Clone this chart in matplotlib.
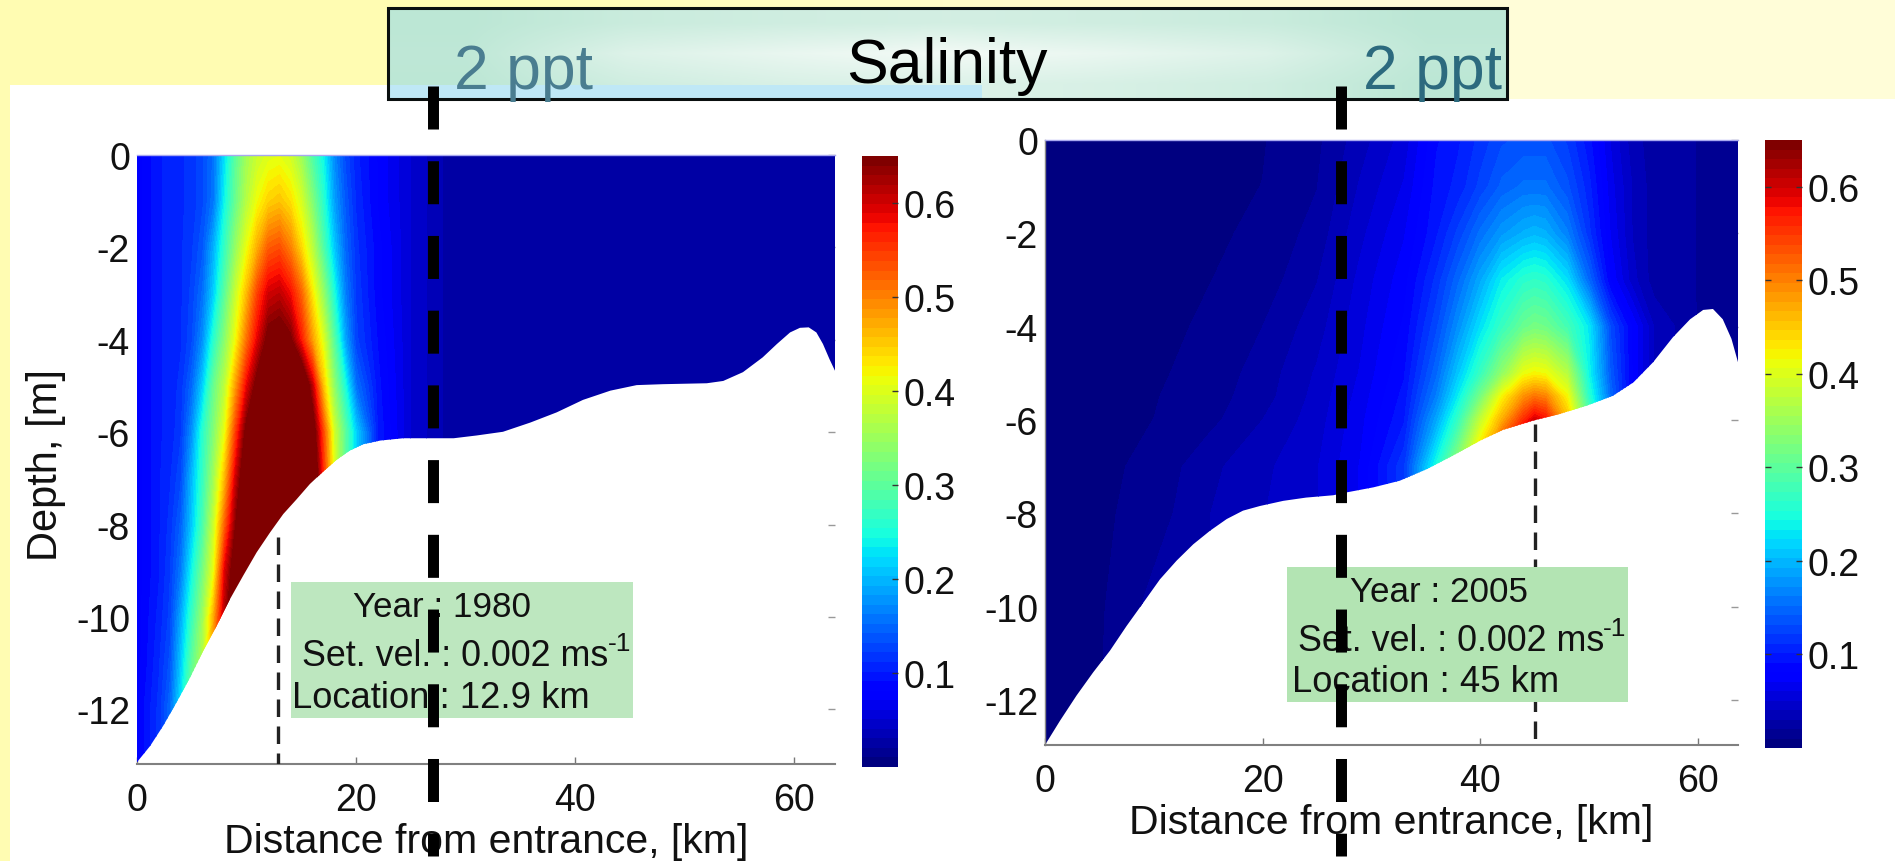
import numpy as np
import matplotlib
matplotlib.use("Agg")
import matplotlib.pyplot as plt
from matplotlib.colors import LinearSegmentedColormap, Normalize
from matplotlib.cm import ScalarMappable
from matplotlib.patches import Rectangle, Polygon

plt.rcParams['font.family'] = ['Liberation Sans', 'DejaVu Sans']

W, H = 1895, 862

# ---------- data ----------
x_ticks = [0, 20, 40, 60]
x_tick_labels = ['0', '20', '40', '60']
y_ticks = [0, -2, -4, -6, -8, -10, -12]
y_tick_labels = ['0', '-2', '-4', '-6', '-8', '-10', '-12']
cb_ticks = [0.1, 0.2, 0.3, 0.4, 0.5, 0.6]
cb_tick_labels = ['0.1', '0.2', '0.3', '0.4', '0.5', '0.6']

bed_x_1980 = [0, 1.2, 2.4, 3.6, 4.84, 6.05, 7.27, 8.49, 9.7, 10.92, 12.14, 13.35, 14.57, 15.78, 17, 18.2, 19.4,
              20.65, 22.2, 24.3, 26.7, 28.9, 31, 33.4, 35.9, 38.3, 40.7, 43.2, 45.6, 48, 52, 53.5, 55.3, 57.1,
              58.4, 59.6, 60.5, 61.3, 62, 62.6, 63.2, 63.7]
bed_z_1980 = [-13.14, -12.79, -12.35, -11.85, -11.31, -10.73, -10.19, -9.61, -9.1, -8.6, -8.17, -7.77, -7.45,
              -7.12, -6.85, -6.6, -6.4, -6.26, -6.18, -6.13, -6.13, -6.13, -6.07, -5.99, -5.79, -5.57, -5.3,
              -5.1, -4.98, -4.96, -4.94, -4.89, -4.7, -4.38, -4.09, -3.84, -3.74, -3.73, -3.84, -4.09, -4.42,
              -4.67]

bed_x_2005 = [0, 1.38, 2.9, 4.44, 5.97, 7.5, 9.04, 10.57, 12.1, 13.63, 15.17, 16.7, 18.2, 19.76, 21.9, 24, 26.5,
              27.7, 30.2, 32.6, 35.1, 37.5, 40, 42.1, 44.9, 47.3, 49.8, 52.2, 54.1, 55.9, 57.7, 59.3, 60.5,
              61.4, 62.3, 63.1, 63.7]
bed_z_2005 = [-12.96, -12.44, -11.9, -11.4, -10.94, -10.41, -9.91, -9.41, -9.01, -8.66, -8.37, -8.12, -7.94,
              -7.84, -7.73, -7.66, -7.61, -7.55, -7.44, -7.3, -7.05, -6.76, -6.44, -6.21, -6.01, -5.87, -5.69,
              -5.48, -5.19, -4.76, -4.23, -3.84, -3.64, -3.62, -3.84, -4.26, -4.76]

field_x_1980 = [0, 2, 3, 4, 5, 6, 7, 8, 9, 10, 11, 12, 13, 14, 15, 16, 17, 18, 19, 20, 22, 25, 28, 64]
field_z_1980 = [0, -1, -2, -3, -4, -5, -6, -7, -8, -9, -10, -11, -12, -13.2]
field_1980 = [
    [.075, .10, .105, .11, .115, .13, .155, .225, .30, .355, .385, .40, .405, .39, .35, .29, .24, .17, .13, .105, .08, .05, .03, .025],
    [.075, .10, .105, .11, .115, .13, .16, .24, .31, .37, .415, .445, .455, .435, .395, .33, .26, .185, .14, .11, .08, .05, .03, .025],
    [.075, .10, .105, .11, .12, .14, .195, .27, .345, .41, .47, .525, .535, .50, .44, .375, .29, .21, .15, .115, .085, .05, .03, .025],
    [.075, .10, .105, .11, .125, .155, .215, .30, .385, .46, .545, .60, .61, .58, .52, .43, .345, .25, .165, .12, .085, .05, .03, .025],
    [.075, .10, .105, .11, .13, .175, .26, .335, .415, .51, .59, .66, .67, .65, .57, .48, .40, .295, .19, .125, .09, .05, .03, .025],
    [.075, .10, .105, .115, .15, .215, .31, .375, .48, .585, .665, .72, .78, .78, .72, .61, .455, .34, .25, .155, .095, .05, .03, .025],
    [.075, .10, .105, .12, .175, .26, .33, .41, .545, .66, .75, .80, .80, .80, .75, .68, .54, .39, .30, .215, .10, .05, .03, .025],
    [.075, .10, .11, .13, .20, .27, .355, .46, .60, .70, .80, .80, .80, .80, .80, .72, .56, .40, .30, .215, .10, .05, .03, .025],
    [.075, .10, .115, .145, .21, .285, .385, .52, .64, .75, .80, .80, .80, .80, .80, .72, .56, .40, .30, .215, .10, .05, .03, .025],
    [.075, .10, .12, .16, .24, .32, .41, .59, .68, .80, .80, .80, .80, .80, .80, .72, .56, .40, .30, .215, .10, .05, .03, .025],
    [.075, .105, .125, .19, .27, .35, .47, .62, .72, .80, .80, .80, .80, .80, .80, .72, .56, .40, .30, .215, .10, .05, .03, .025],
    [.075, .11, .135, .21, .30, .37, .50, .65, .75, .80, .80, .80, .80, .80, .80, .72, .56, .40, .30, .215, .10, .05, .03, .025],
    [.08, .115, .15, .23, .33, .42, .55, .70, .80, .80, .80, .80, .80, .80, .80, .72, .56, .40, .30, .215, .10, .05, .03, .025],
    [.08, .115, .15, .23, .33, .42, .55, .70, .80, .80, .80, .80, .80, .80, .80, .72, .56, .40, .30, .215, .10, .05, .03, .025],
]

field_x_2005 = [0, 5, 10, 15, 20, 25, 29, 33, 36, 38, 40, 42, 44, 45, 46, 48, 50, 52, 54, 56, 60, 64]
field_z_2005 = [0, -1, -2, -3, -4, -5, -5.5, -6, -7, -8, -10, -13]
field_2005 = [
    [.008, .008, .005, .007, .0095, .018, .036, .055, .09, .10, .115, .13, .135, .135, .135, .12, .095, .06, .035, .025, .02, .02],
    [.008, .008, .006, .0075, .0103, .02, .042, .062, .095, .105, .125, .145, .155, .155, .155, .135, .105, .065, .04, .025, .02, .02],
    [.008, .008, .006, .008, .0125, .024, .048, .07, .10, .125, .155, .18, .195, .20, .195, .165, .115, .07, .04, .025, .02, .02],
    [.008, .008, .0065, .0098, .0145, .03, .054, .077, .115, .15, .19, .235, .26, .265, .26, .225, .15, .08, .045, .025, .02, .02],
    [.008, .008, .007, .0118, .0203, .036, .058, .083, .13, .175, .225, .27, .31, .32, .315, .28, .23, .13, .08, .04, .02, .02],
    [.008, .008, .0085, .014, .0245, .042, .062, .09, .15, .21, .27, .34, .41, .42, .415, .37, .24, .14, .08, .04, .02, .02],
    [.008, .008, .0095, .0155, .026, .044, .065, .095, .165, .235, .32, .42, .49, .51, .50, .42, .26, .15, .08, .04, .02, .02],
    [.008, .008, .0102, .017, .0305, .046, .068, .10, .19, .27, .38, .47, .56, .60, .58, .46, .30, .17, .08, .04, .02, .02],
    [.008, .008, .0125, .0275, .038, .05, .072, .12, .25, .35, .47, .60, .70, .70, .70, .55, .36, .20, .08, .04, .02, .02],
    [.008, .008, .015, .03, .04, .05, .072, .12, .25, .35, .47, .60, .70, .70, .70, .55, .36, .20, .08, .04, .02, .02],
    [.008, .0085, .024, .03, .04, .05, .072, .12, .25, .35, .47, .60, .70, .70, .70, .55, .36, .20, .08, .04, .02, .02],
    [.008, .0102, .03, .03, .04, .05, .072, .12, .25, .35, .47, .60, .70, .70, .70, .55, .36, .20, .08, .04, .02, .02],
]

location_1980 = 12.9
location_2005 = 45
dash_top_1980 = -8.27
dash_top_2005 = -6.09


# ---------- helpers ----------
def rect(x0, y0, x1, y1):
    """Axes rectangle from pixel edges, y measured from the top."""
    return [x0 / W, 1 - y1 / H, (x1 - x0) / W, (y1 - y0) / H]


fig = plt.figure(figsize=(W / 100, H / 100), dpi=100, facecolor='white')

# ---------- slide background ----------
bg = fig.add_axes([0, 0, 1, 1], zorder=0)
bg.axis('off')
yellow = LinearSegmentedColormap.from_list('y', ['#FFFCB2', '#FFFDC8', '#FFFDD8'])
bg.imshow([[0, 1]], extent=[0, W, H, 0], cmap=yellow, aspect='auto', interpolation='bilinear', zorder=0)
bg.add_patch(Rectangle((10, 86), 1000, H - 86, fc='white', ec='none', zorder=1))
bg.add_patch(Rectangle((1000, 100), W - 1000, H - 100, fc='white', ec='none', zorder=1))
band = LinearSegmentedColormap.from_list('b', ['#BCE7D5', '#F3FAF6'])
band_shade = [[0, .25, .35, .42, .35, .25, 0],
              [.05, .6, .82, 1, .82, .6, .08],
              [0, .35, .52, .6, .5, .35, 0]]
bg.imshow(band_shade, extent=[388, 1507, 100, 9], cmap=band, vmin=0, vmax=1, aspect='auto',
          interpolation='bilinear', zorder=2)
bg.add_patch(Rectangle((388, 86), 594, 14, fc='#BFE8F6', ec='none', zorder=3))
bg.add_patch(Rectangle((388, 9), 1119, 91, fc='none', ec='#0A0F0F', lw=2.2, zorder=4))
bg.set_xlim(0, W)
bg.set_ylim(H, 0)

# ---------- panels ----------
cmap = plt.get_cmap('jet', 64)
levels = np.linspace(0, 0.65, 65)
norm = Normalize(0, 0.65)


def panel(ax_px, cb_px, fx, fz, field, bx, bz, loc, dash_top, ylim):
    ax = fig.add_axes(rect(*ax_px), zorder=1)
    ax.set_facecolor('none')
    cs = ax.contourf(fx, fz, np.array(field), levels=levels, cmap=cmap, norm=norm, extend='max')
    water = Polygon(list(zip(bx, bz)) + [(bx[-1], 0), (bx[0], 0)], closed=True, transform=ax.transData)
    cs.set_clip_path(water)
    ax.plot([loc, loc], [dash_top, ylim], color='#222222', lw=2.4, dashes=(5.25, 2.85),
            dash_capstyle='butt', zorder=3)
    ax.set_xlim(0, 63.7)
    ax.set_ylim(ylim, 0)
    ax.set_axisbelow(True)
    ax.set_xticks(x_ticks, x_tick_labels)
    ax.set_yticks(y_ticks, y_tick_labels)
    ax.tick_params(axis='x', direction='in', length=5, width=1, color='#777777', pad=13, labelsize=27,
                   labelcolor='#111111')
    ax.tick_params(axis='y', direction='in', length=5, width=1, color='#999999', pad=5, labelsize=27,
                   left=False, right=True, labelcolor='#111111')
    for s in ('left', 'right'):
        ax.spines[s].set_visible(False)
    ax.spines['bottom'].set_color('#808080')
    ax.spines['bottom'].set_linewidth(1.5)
    ax.spines['top'].set_color('#A8A8F0')
    ax.spines['top'].set_linewidth(1)
    ax.set_xlabel('Distance from entrance, [km]', fontsize=29.5, color='#111111', labelpad=3)

    cax = fig.add_axes(rect(*cb_px), zorder=1)
    cb = fig.colorbar(ScalarMappable(norm=norm, cmap=cmap), cax=cax)
    cb.set_ticks(cb_ticks, labels=cb_tick_labels)
    cb.outline.set_visible(False)
    cax.tick_params(axis='y', direction='in', length=4, width=1, color='#333333', left=True, right=True,
                    pad=4, labelsize=27, labelcolor='#111111')
    return ax


ax1 = panel((137, 156, 835, 765), (862, 157, 898, 768), field_x_1980, field_z_1980, field_1980,
            bed_x_1980, bed_z_1980, location_1980, dash_top_1980, -13.18)
ax1.set_ylabel('Depth, [m]', fontsize=30, color='#111111', labelpad=7)
ax1.yaxis.label.set_y(0.4926)
ax2 = panel((1045, 141, 1738, 746), (1765, 141, 1802, 749), field_x_2005, field_z_2005, field_2005,
            bed_x_2005, bed_z_2005, location_2005, dash_top_2005, -12.96)
ax2.spines['left'].set_visible(True)
ax2.spines['left'].set_color('#888888')
ax2.spines['left'].set_linewidth(1)

# ---------- overlay ----------
ov = fig.add_axes([0, 0, 1, 1], zorder=3)
ov.axis('off')
ov.set_xlim(0, W)
ov.set_ylim(H, 0)
ov.add_patch(Rectangle((291, 583), 342, 136, fc='#BDE7BF', ec='none', zorder=1))
ov.add_patch(Rectangle((1287, 568), 341, 135, fc='#B3E4B3', ec='none', zorder=1))

box_fs = 25.8
for x, y, s, fs in [(353, 617, 'Year : 1980', 25.2), (302, 666, 'Set. vel. : 0.002 ms', box_fs),
                    (608, 651, '-1', 19), (292, 708, 'Location : 12.9 km', 26.2),
                    (1350, 602, 'Year : 2005', 25.2), (1298, 651, 'Set. vel. : 0.002 ms', box_fs),
                    (1603, 636, '-1', 19), (1292, 692, 'Location : 45 km', 26.2)]:
    ov.text(x, y, s, fontsize=fs, color='#111111', va='baseline', ha='left', zorder=2)

for x in (433, 1341):
    ov.plot([x, x], [87, 857], color='black', lw=7.9, dashes=(3.92, 2.89), dash_capstyle='butt', zorder=3)

ov.text(947, 83, 'Salinity', fontsize=45, color='black', va='baseline', ha='center', zorder=4)
ov.text(454, 89, '2 ppt', fontsize=45, color='#4A7D90', va='baseline', ha='left', zorder=4)
ov.text(1363, 89, '2 ppt', fontsize=45, color='#2C6A7E', va='baseline', ha='left', zorder=4)

fig.savefig('out.png', dpi=100, facecolor='white')
